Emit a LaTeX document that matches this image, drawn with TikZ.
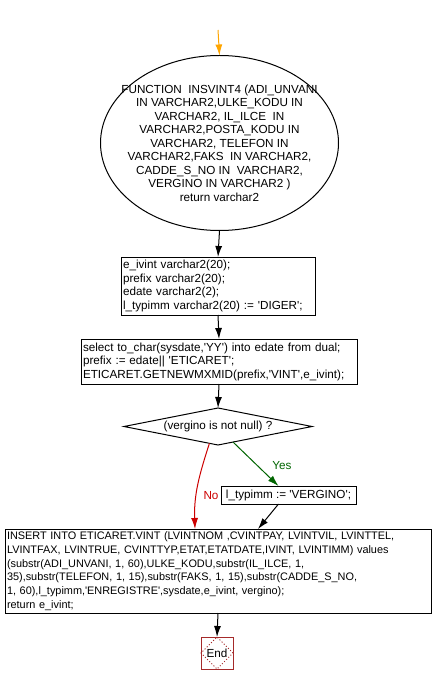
\documentclass[tikz,border=0pt]{standalone}
\usepackage{fontspec}
\setmainfont{Liberation Sans}
\usetikzlibrary{shapes.geometric,arrows.meta}
\definecolor{flowgreen}{RGB}{0,100,0}
\definecolor{flowred}{RGB}{204,0,0}
\definecolor{flowend}{RGB}{165,42,42}
\definecolor{flowstart}{RGB}{255,165,0}
\newcommand{\q}{\textquotesingle}

\begin{document}
\begin{tikzpicture}[x=1pt, y=-1pt, line width=1pt]
\tikzset{ >={Latex[length=11pt,width=7pt]}, inner sep=0pt, outer sep=0pt,
  every node/.style={font=\fontsize{11.7}{13.5}\selectfont},
  procbox/.style={draw, rectangle, inner xsep=2pt, align=left},
}

%\draw [lightgray, dashed](0,0) grid [step=10] (433,684);
\useasboundingbox (0,0) rectangle (433,684);

\coordinate (S) at (218,30);

\node [draw, ellipse, minimum width=238pt, minimum height=175pt] (F) at (219.5,143) {};
\node [align=center] (Ft) at (F)
  {FUNCTION~ INSVINT4 (ADI\_UNVANI\\IN VARCHAR2,ULKE\_KODU IN\\VARCHAR2, IL\_ILCE~ IN\\VARCHAR2,POSTA\_KODU IN\\VARCHAR2, TELEFON IN\\VARCHAR2,FAKS~ IN VARCHAR2,\\CADDE\_S\_NO IN~ VARCHAR2,\\VERGINO IN VARCHAR2 )\\return varchar2};

\node [procbox, minimum width=194pt, minimum height=58pt, text width=190pt] (D) at (218,286)
  {e\_ivint varchar2(20);\\prefix varchar2(20);\\edate varchar2(2);\\l\_typimm varchar2(20) := \q DIGER\q;};

\node [procbox, minimum width=276pt, minimum height=45pt, text width=272pt] (P) at (219,361.5)
  {select to\_char(sysdate,\q YY\q) into edate from dual;\\prefix := edate|| \q ETICARET\q;\\ETICARET.GETNEWMXMID(prefix,\q VINT\q,e\_ivint);};

\node [draw, diamond, aspect=5, minimum width=188pt, minimum height=37pt] (C) at (218,426.5)
  {(vergino is not null) ?};

\node [procbox, minimum width=135pt, minimum height=18pt, align=center] (B) at (288.5,495)
  {l\_typimm := \q VERGINO\q;};

\node [procbox, minimum width=426pt, minimum height=84pt, text width=422pt,
  font=\fontsize{10.9}{13.7}\selectfont] (I) at (218,571)
  {INSERT INTO ETICARET.VINT (LVINTNOM ,CVINTPAY, LVINTVIL, LVINTTEL,\\LVINTFAX, LVINTRUE, CVINTTYP,ETAT,ETATDATE,IVINT, LVINTIMM) values\\(substr(ADI\_UNVANI, 1, 60),ULKE\_KODU,substr(IL\_ILCE, 1,\\35),substr(TELEFON, 1, 15),substr(FAKS, 1, 15),substr(CADDE\_S\_NO,\\1, 60),l\_typimm,\q ENREGISTRE\q,sysdate,e\_ivint, vergino);\\return e\_ivint;};

\node [draw=flowend, minimum size=32pt] (E) at (217,653) {End};
\node [draw=flowend, dotted, diamond, minimum width=32pt, minimum height=32pt] (Ed) at (E) {};

\draw [->, flowstart] (S) -- (F.north);
\draw [->] (F.south) -- (D.north);
\draw [->] (D.south) -- (P.north);
\draw [->] (P.south) -- (C.north);
\draw [->, flowgreen] (C.-46) -- ([xshift=-10pt]B.north);
\draw [->, flowred] (C.-117) to [out=-108, in=92] ([xshift=-23pt]I.north);
\draw [->] ([xshift=-10pt]B.south) -- ([xshift=40pt]I.north);
\draw [->] (I.south) -- (E.north);

\node [text=flowgreen] (yes) at (282,466) {Yes};
\node [text=flowred] (no) at (211,496) {No};
\end{tikzpicture}
\end{document}
